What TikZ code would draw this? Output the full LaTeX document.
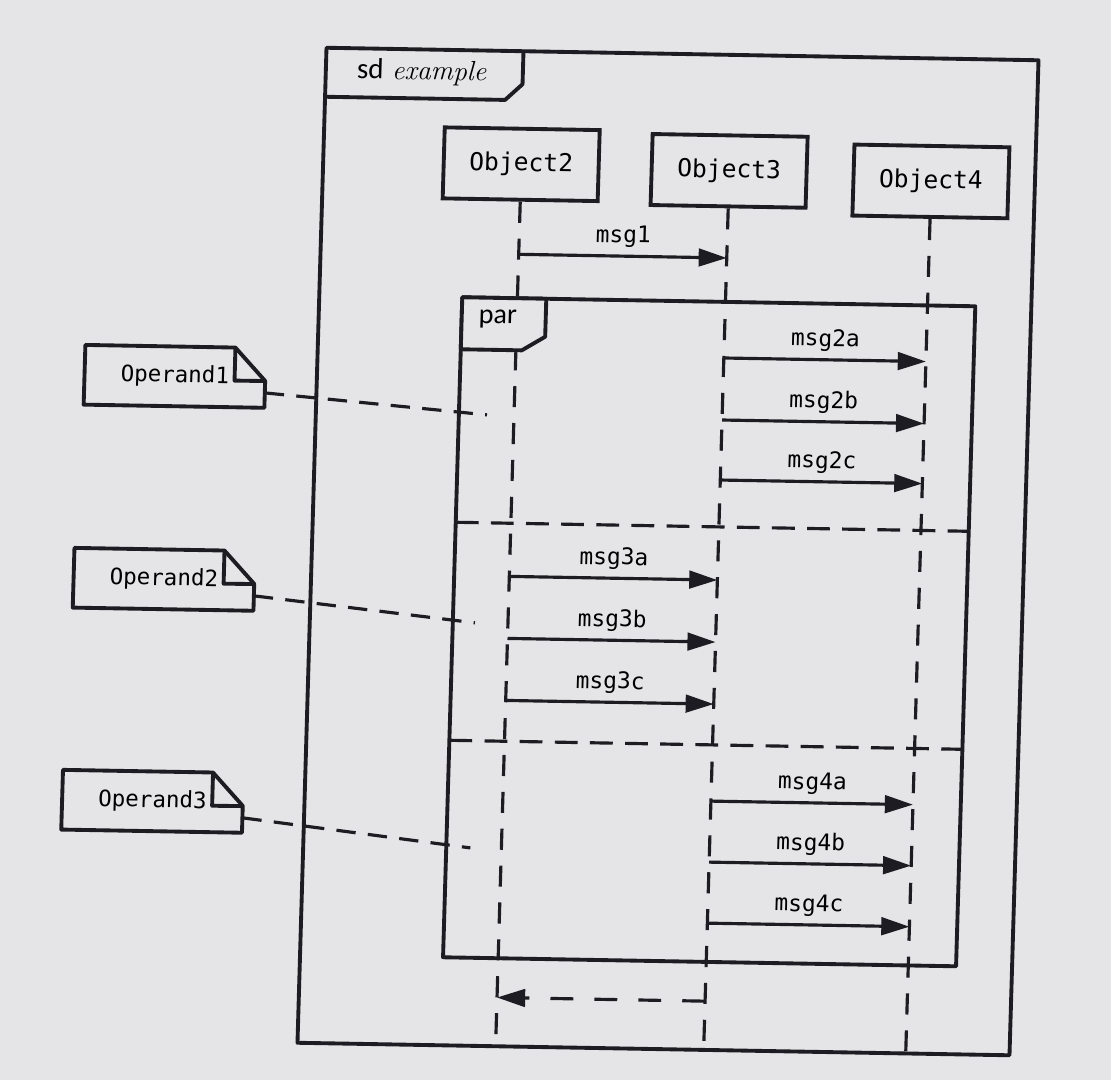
\documentclass[tikz,border=0pt]{standalone}
\usepackage{fontspec}
\usepackage{tikz}
\usetikzlibrary{arrows.meta,calc}
\newfontfamily\codefont{DejaVu Sans Mono}
\newfontfamily\tabfont{Carlito}
\definecolor{paper}{RGB}{229,229,231}
\definecolor{ink}{RGB}{28,28,34}
\tikzset{>={Triangle[length=16pt,width=10pt]}}
\tikzset{
  frameline/.style={draw=ink, line width=2.2pt, line join=round},
  objbox/.style={draw=ink, line width=2.2pt, minimum width=3.1cm, minimum height=1.42cm,
    font=\codefont\fontsize{14}{16}\selectfont},
  lifeline/.style={draw=ink, line width=1.8pt, dash pattern=on 12pt off 9pt},
  msgline/.style={draw=ink, line width=1.8pt, ->},
  retline/.style={draw=ink, line width=1.8pt, dash pattern=on 13pt off 12pt, ->},
  opsep/.style={draw=ink, line width=1.8pt, dash pattern=on 13pt off 7pt},
  noteline/.style={draw=ink, line width=1.8pt, dash pattern=on 11pt off 7pt},
  notebox/.style={minimum width=3.6cm, minimum height=1.18cm,
    font=\codefont\fontsize{12.8}{14}\selectfont},
  msglbl/.style={above=4pt, inner sep=0pt, font=\codefont\fontsize{13}{15}\selectfont}
}

\begin{document}
\begin{tikzpicture}[x=0.02cm, y=-0.02cm]
\fill[paper] (0,0) rectangle (1111,1080);
\begin{scope}[shift={(668,551)}, cm={1,-0.01756,0.02916,1,(0,0)}, shift={(-668,-551)}, transform shape]
% frame sd
\draw[frameline] (312,54) rectangle (1024,1049);
\draw[frameline] (312,103) -- (492,103) -- (509,87) -- (509,54);
\node[anchor=west, font=\fontsize{15.8}{20}\selectfont] (sdlbl) at (337,77) {{\tabfont\fontsize{16.5}{20}\selectfont sd} \textit{example}};

% objects
\node[objbox] (obj2) at (510,167) {Object2};
\node[objbox] (obj3) at (718,170) {Object3};
\node[objbox] (obj4) at (920,177) {Object4};
\coordinate (end2) at (510,1049);
\coordinate (end3) at (718,1049);
\coordinate (end4) at (920,1049);
\draw[lifeline] (obj2.south) -- (end2);
\draw[lifeline] (obj3.south) -- (end3);
\draw[lifeline] (obj4.south) -- (end4);

\coordinate (m1-s) at (510,257);
\coordinate (m1-e) at (718,257);
\draw[msgline] (m1-s) -- node[msglbl] {msg1} (m1-e);

% par fragment
\draw[frameline] (455,301) rectangle (968,961);
\filldraw[frameline, fill=paper] (455,301) -- (539,301) -- (539,339) -- (516,353) -- (455,353) -- cycle;
\node[font=\tabfont\fontsize{16}{20}\selectfont] (parlbl) at (491,322) {par};
\draw[opsep] (455,526) -- (968,526);
\draw[opsep] (455,744) -- (968,744);

\foreach \n/\y in {2a/357,2b/419,2c/479,4a/800,4b/861,4c/922} {
  \coordinate (m\n-s) at (718,\y);
  \coordinate (m\n-e) at (920,\y);
  \draw[msgline] (m\n-s) -- node[msglbl] {msg\n} (m\n-e);
}
\foreach \n/\y in {3a/579,3b/641,3c/703} {
  \coordinate (m\n-s) at (510,\y);
  \coordinate (m\n-e) at (718,\y);
  \draw[msgline] (m\n-s) -- node[msglbl] {msg\n} (m\n-e);
}

\coordinate (r-s) at (718,1000);
\coordinate (r-e) at (510,1000);
\draw[retline] (r-s) -- (r-e);

% notes
\node[notebox] (op1) at (170,385) {Operand1};
\node[notebox] (op2) at (165,588) {Operand2};
\node[notebox] (op3) at (160,810) {Operand3};
\coordinate (op1-t) at (483,418);
\coordinate (op2-t) at (477,626);
\coordinate (op3-t) at (479,851);
\foreach \k in {op1,op2,op3} {
  \draw[frameline] (\k.north west) -- ($(\k.north east)!0.17!(\k.north west)$) coordinate (\k-a)
    -- ($(\k.north east)!0.55!(\k.south east)$) coordinate (\k-b)
    -- (\k.south east) -- (\k.south west) -- cycle;
  \draw[frameline] (\k-a) -- ($(\k-a)+(\k-b)-(\k.north east)$) -- (\k-b);
  \draw[noteline] ($(\k.east)!0.5!(\k.south east)$) -- (\k-t);
}
\end{scope}
\end{tikzpicture}
\end{document}
